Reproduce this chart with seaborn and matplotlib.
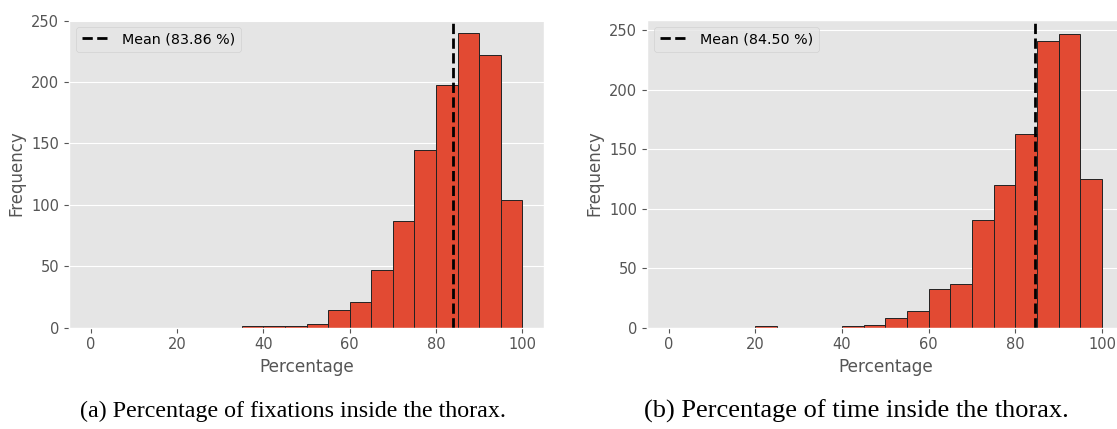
import numpy as np
import pandas as pd
import matplotlib
matplotlib.use("Agg")
import matplotlib.pyplot as plt
import seaborn as sns

# ---- data ----
bin_edges = list(range(0, 105, 5))
fix_bin_left = [35, 40, 45, 50, 55, 60, 65, 70, 75, 80, 85, 90, 95]
fix_counts = [1, 1, 1, 3, 14, 21, 47, 87, 145, 198, 240, 222, 104]
fix_mean = 83.86

time_bin_left = [20, 40, 45, 50, 55, 60, 65, 70, 75, 80, 85, 90, 95]
time_counts = [1, 1, 2, 8, 14, 32, 37, 90, 120, 163, 241, 247, 125]
time_mean = 84.50

captions = ["(a) Percentage of fixations inside the thorax.",
            "(b) Percentage of time inside the thorax."]
xlabel = "Percentage"
ylabel = "Frequency"

plt.style.use("ggplot")
plt.rcParams["font.family"] = ["DejaVu Sans"]

fig = plt.figure(figsize=(11.17, 4.29), dpi=100)
ax1 = fig.add_axes([69 / 1117, (429 - 327.5) / 429, 475 / 1117, 308 / 429])
ax2 = fig.add_axes([647 / 1117, (429 - 327.5) / 429, 476.7 / 1117, 308 / 429])

panels = [
    (ax1, fix_bin_left, fix_counts, fix_mean),
    (ax2, time_bin_left, time_counts, time_mean),
]

for ax, lefts, counts, mean in panels:
    df = pd.DataFrame({"x": np.array(lefts) + 2.5, "w": counts})
    sns.histplot(data=df, x="x", weights="w", bins=bin_edges, ax=ax,
                 color="#E24A33", alpha=1.0, edgecolor="#222222", linewidth=0.7)
    for p in list(ax.patches):
        if p.get_height() == 0:
            p.remove()
    ax.axvline(mean, color="black", linestyle="--", linewidth=2,
               label=f"Mean ({mean:.2f} %)")
    ax.set_xlim(-5, 105)
    ax.set_xticks([0, 20, 40, 60, 80, 100])
    ax.set_yticks([0, 50, 100, 150, 200, 250])
    ax.grid(False, axis="x")
    ax.grid(True, axis="y", color="white")
    ax.set_axisbelow(True)
    ax.tick_params(labelsize=10.5, colors="#555555")
    ax.set_xlabel(xlabel, fontsize=12.2, color="#555555")
    ax.set_ylabel(ylabel, fontsize=12, color="#555555")
    ax.legend(loc="upper left", fontsize=10.3)

ax1.set_ylim(0, 251)
ax2.set_ylim(0, 259)

fig.text(293 / 1117, 1 - 411 / 429, captions[0], ha="center", va="center",
         fontsize=17.3, family="Liberation Serif", color="black")
fig.text(856 / 1117, 1 - 411 / 429, captions[1], ha="center", va="center",
         fontsize=19.0, family="Liberation Serif", color="black")

fig.savefig("out.png", dpi=100)
